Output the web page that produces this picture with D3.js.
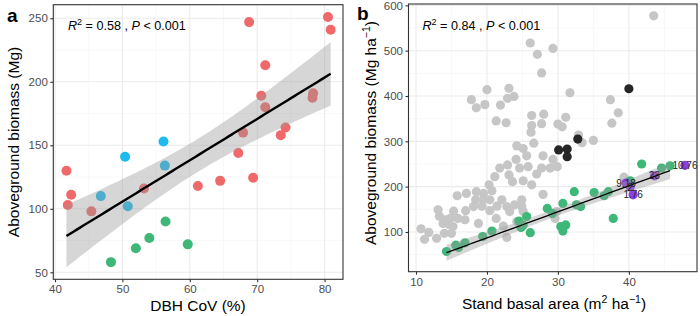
<!DOCTYPE html>
<html><head><meta charset="utf-8">
<script src="https://cdn.jsdelivr.net/npm/d3@7"></script>
<style>
body{margin:0;background:#fff;}
text{font-family:"Liberation Sans",Arial,sans-serif;}
</style></head>
<body><svg id="c" width="700" height="316"></svg>
<script>
// ---------- Panel a data: DBH CoV (%) vs aboveground biomass (Mg)
const aRedX = [80.5,80.9,68.8,71.2,70.6,71.2,78.3,78.2,67.9,74.2,73.5,67.2,41.7,42.4,41.9,45.4,53.2,61.2,64.5,69.4];
const aRedY = [251,241,247,213,189,180,191,187.5,160,164,158,144,130,111,103,98,116,118,122,124.5];
const aBlueX = [56.1,50.4,56.3,46.8,50.8];
const aBlueY = [153,141,134,110,102];
const aGreenX = [56.4,54.0,52.0,59.7,48.3];
const aGreenY = [90,77,69,72,58];
const aXTicks = [40,50,60,70,80];
const aYTicks = [50,100,150,200,250];

// ---------- Panel b data: stand basal area vs aboveground biomass (Mg ha-1)
const bGreyX = [43.5,26.1,29.3,27.1,27.7,20.0,23.1,31.7,17.8,22.9,23.8,18.5,19.7,21.9,37.4,38.5,37.6,21.3,22.7,26.3,28.0,26.3,27.7,30.0,30.6,31.1,26.2,26.6,32.9,33.4,35.0,24.2,25.1,27.9,25.6,24.1,29.3,
  22.9,21.8,24.6,25.8,27.0,27.7,28.9,29.9,21.1,23.1,23.6,25.1,26.3,20.3,20.7,19.5,18.5,17.1,15.8,18.4,19.5,20.4,18.1,19.3,17.0,20.4,21.4,22.1,22.8,23.2,23.9,24.9,24.9,25.1,27.9,
  13.1,13.3,14.1,15.3,15.9,14.8,13.8,14.7,15.2,16.9,18.8,10.7,11.8,11.2,12.9,14.0,15.0,22.8,22.3,21.3,29.6,29.8,24.2,39.3];
const bGreyY = [577,517,505,492,451,414,417,407,392,395,399,374,381,380,392,363,340,345,341,357,360,335,339,338,332,353,320,296,314,297,302,290,284,268,268,260,260,
  248,241,241,244,228,241,241,244,222,226,211,213,204,204,191,185,189,185,180,171,172,171,156,157,147,147,157,171,156,145,160,171,156,145,183,
  149,135,127,146,130,130,119,116,112,127,119,107,99,84,86,97,97,88,113,130,130,145,123,221];
const bDarkX = [40.0,30.1,31.3,31.3,32.8];
const bDarkY = [416,281,283,266,305];
const bGreenX = [14.3,15.6,16.9,16.0,19.4,20.7,24.5,25.1,25.6,24.8,26.1,28.5,29.2,30.7,30.4,31.1,30.7,32.3,32.6,33.2,35.1,36.5,37.1,37.8,41.8,44.6,45.8,40.2];
const bGreenY = [57,71,76,66,90,102,124,115,134,110,98.5,152,141,163,112,115.5,102,189,160,156,187,180,189,130,250,241,246,213];
const bPurpleX = [39.6,40.2,40.6,43.6,47.9];
const bPurpleY = [208,199,182,224,247];
const bPurpleLab = ["9.18","2","1.76","23","10.76"];
const bXTicks = [10,20,30,40];
const bYTicks = [100,200,300,400,500,600];

const svg = d3.select("#c");
const tCrit = 2.05;

function fit(xs, ys){
  const n = xs.length, mx = d3.mean(xs), my = d3.mean(ys);
  let sxx=0, sxy=0;
  for(let i=0;i<n;i++){sxx+=(xs[i]-mx)**2; sxy+=(xs[i]-mx)*(ys[i]-my);}
  const b = sxy/sxx, a = my-b*mx;
  let sse=0; for(let i=0;i<n;i++){sse+=(ys[i]-a-b*xs[i])**2;}
  const s = Math.sqrt(sse/(n-2));
  const x0=d3.min(xs), x1=d3.max(xs);
  return d3.range(0,81).map(k=>{
    const x = x0+(x1-x0)*k/80, y=a+b*x;
    const se = s*Math.sqrt(1/n+(x-mx)**2/sxx);
    return {x, y, lo:y-tCrit*se, hi:y+tCrit*se};
  });
}

function panel(cfg){
  const g = svg.append("g");
  const x = d3.scaleLinear().domain(cfg.xd).range([cfg.x0,cfg.x1]);
  const y = d3.scaleLinear().domain(cfg.yd).range([cfg.y1,cfg.y0]);
  g.selectAll(".xm").data(cfg.xMinor).join("line").attr("x1",d=>x(d)).attr("x2",d=>x(d)).attr("y1",cfg.y0).attr("y2",cfg.y1).attr("stroke","#f3f3f3").attr("stroke-width",0.6);
  g.selectAll(".ym").data(cfg.yMinor).join("line").attr("y1",d=>y(d)).attr("y2",d=>y(d)).attr("x1",cfg.x0).attr("x2",cfg.x1).attr("stroke","#f3f3f3").attr("stroke-width",0.6);
  g.selectAll(".xM").data(cfg.xTicks).join("line").attr("x1",d=>x(d)).attr("x2",d=>x(d)).attr("y1",cfg.y0).attr("y2",cfg.y1).attr("stroke","#ebebeb").attr("stroke-width",1.1);
  g.selectAll(".yM").data(cfg.yTicks).join("line").attr("y1",d=>y(d)).attr("y2",d=>y(d)).attr("x1",cfg.x0).attr("x2",cfg.x1).attr("stroke","#ebebeb").attr("stroke-width",1.1);
  cfg.layers.forEach(L=>{
    g.append("g").selectAll("circle").data(L.xs.map((v,i)=>[v,L.ys[i]])).join("circle")
      .attr("cx",d=>x(d[0])).attr("cy",d=>y(d[1])).attr("r",cfg.r).attr("fill",L.color);
  });
  const f = fit(cfg.fitX, cfg.fitY);
  g.append("path").datum(f).attr("fill","#999999").attr("fill-opacity",0.4)
    .attr("d", d3.area().x(d=>x(d.x)).y0(d=>y(d.lo)).y1(d=>y(d.hi)));
  g.append("path").datum(f).attr("fill","none").attr("stroke","#000").attr("stroke-width",cfg.lw)
    .attr("d", d3.line().x(d=>x(d.x)).y(d=>y(d.y)));
  if(cfg.labels){
    g.append("g").selectAll("text").data(cfg.labels.xs.map((v,i)=>[v,cfg.labels.ys[i],cfg.labels.t[i]])).join("text")
      .attr("x",d=>x(d[0])).attr("y",d=>y(d[1])).attr("dy","0.35em").attr("text-anchor","middle")
      .attr("font-size",10).attr("fill","#222").text(d=>d[2]);
  }
  g.append("rect").attr("x",cfg.x0).attr("y",cfg.y0).attr("width",cfg.x1-cfg.x0).attr("height",cfg.y1-cfg.y0)
    .attr("fill","none").attr("stroke","#333").attr("stroke-width",1.1);
  const ax = g.append("g").attr("transform",`translate(0,${cfg.y1})`)
    .call(d3.axisBottom(x).tickValues(cfg.xTicks).tickSize(3).tickPadding(3).tickSizeOuter(0));
  const ay = g.append("g").attr("transform",`translate(${cfg.x0},0)`)
    .call(d3.axisLeft(y).tickValues(cfg.yTicks).tickSize(3).tickPadding(2.5).tickSizeOuter(0));
  [ax,ay].forEach(a=>{
    a.select(".domain").remove();
    a.selectAll("line").attr("stroke","#333").attr("stroke-width",1.1);
    a.selectAll("text").attr("fill","#4d4d4d").attr("font-size",11.5).style("font-family","'Liberation Sans',Arial,sans-serif");
  });
  return {x,y,g};
}

panel({
  x0:53.3, x1:343, y0:4.7, y1:279.3, xd:[39.75,82.73], yd:[44.5,260.7],
  xTicks:aXTicks, yTicks:aYTicks, xMinor:[45,55,65,75], yMinor:[75,125,175,225],
  r:5, lw:2.4,
  layers:[{xs:aRedX,ys:aRedY,color:"#F0696A"},{xs:aBlueX,ys:aBlueY,color:"#1EBBEE"},{xs:aGreenX,ys:aGreenY,color:"#3DB878"}],
  fitX:aRedX.concat(aBlueX,aGreenX), fitY:aRedY.concat(aBlueY,aGreenY)
});
panel({
  x0:408.5, x1:697, y0:4, y1:271.7, xd:[8.94,49.6], yd:[12.4,603],
  xTicks:bXTicks, yTicks:bYTicks, xMinor:[15,25,35,45], yMinor:[50,150,250,350,450,550],
  r:4.6, lw:1.3,
  layers:[{xs:bGreyX,ys:bGreyY,color:"#C6C6C6"},{xs:bDarkX,ys:bDarkY,color:"#262626"},{xs:bGreenX,ys:bGreenY,color:"#3DB878"},{xs:bPurpleX,ys:bPurpleY,color:"#8A3FE0"}],
  fitX:bGreenX, fitY:bGreenY,
  labels:{xs:bPurpleX, ys:bPurpleY, t:bPurpleLab}
});

function stat(x,y,r2){
  const t = svg.append("text").attr("x",x).attr("y",y).attr("font-size",12.6).attr("fill","#000");
  t.append("tspan").attr("font-style","italic").text("R");
  t.append("tspan").attr("font-size",9).attr("dy",-5).text("2");
  t.append("tspan").attr("dy",5).text(" = "+r2+" , ");
  t.append("tspan").attr("font-style","italic").text("P");
  t.append("tspan").text(" < 0.001");
}
stat(68,30,"0.58");
stat(422.5,30,"0.84");

svg.append("text").attr("x",7).attr("y",22).attr("font-size",19).attr("font-weight","bold").text("a");
svg.append("text").attr("x",357).attr("y",20).attr("font-size",19).attr("font-weight","bold").text("b");

svg.append("text").attr("x",198).attr("y",311).attr("text-anchor","middle").attr("font-size",15.5).text("DBH CoV (%)");
svg.append("text").attr("transform","translate(19,142) rotate(-90)").attr("text-anchor","middle").attr("font-size",15.5).text("Aboveground biomass (Mg)");
const bx = svg.append("text").attr("x",554).attr("y",309).attr("text-anchor","middle").attr("font-size",15.5);
bx.append("tspan").text("Stand basal area  (m");
bx.append("tspan").attr("font-size",10.5).attr("dy",-6).text("2");
bx.append("tspan").attr("dy",6).text(" ha");
bx.append("tspan").attr("font-size",10.5).attr("dy",-6).text("\u22121");
bx.append("tspan").attr("dy",6).text(")");
const by = svg.append("text").attr("transform","translate(376,133) rotate(-90)").attr("text-anchor","middle").attr("font-size",15.5);
by.append("tspan").text("Aboveground biomass  (Mg ha");
by.append("tspan").attr("font-size",10.5).attr("dy",-6).text("\u22121");
by.append("tspan").attr("dy",6).text(")");
</script></body></html>
